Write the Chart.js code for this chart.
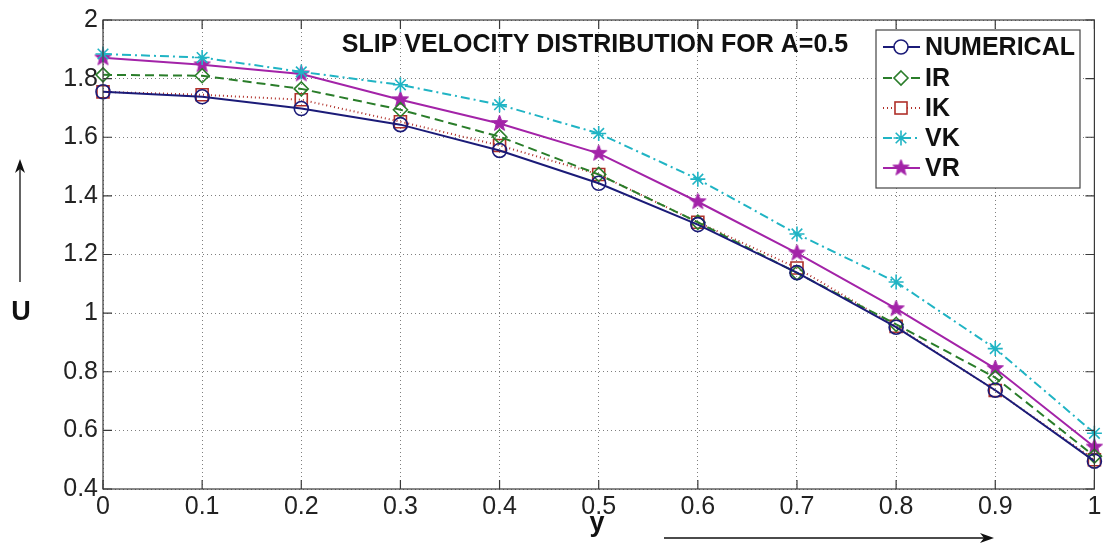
<!DOCTYPE html>
<html>
<head>
<meta charset="utf-8">
<script src="https://cdn.jsdelivr.net/npm/chart.js@4"></script>
<style>
  html, body { margin: 0; padding: 0; background: #fff; }
</style>
</head>
<body>
<canvas id="slip" width="1105" height="546"></canvas>
<script>
// y positions across the channel
const yPos = [0, 0.1, 0.2, 0.3, 0.4, 0.5, 0.6, 0.7, 0.8, 0.9, 1];

// slip velocity U for each method
const numerical = [1.755, 1.738, 1.698, 1.643, 1.555, 1.443, 1.302, 1.138, 0.952, 0.737, 0.495];
const ir        = [1.813, 1.810, 1.765, 1.694, 1.602, 1.473, 1.310, 1.137, 0.962, 0.780, 0.512];
const ik        = [1.755, 1.745, 1.728, 1.653, 1.572, 1.473, 1.310, 1.154, 0.955, 0.736, 0.500];
const vk        = [1.884, 1.872, 1.823, 1.779, 1.711, 1.613, 1.457, 1.270, 1.106, 0.879, 0.590];
const vr        = [1.871, 1.847, 1.816, 1.728, 1.647, 1.545, 1.380, 1.205, 1.015, 0.811, 0.543];

const seriesNames = ["NUMERICAL", "IR", "IK", "VK", "VR"];

const TITLE = "SLIP VELOCITY DISTRIBUTION FOR A=0.5";

// filled pentagram marker for VR (matlab 'p')
function pentagram(size, color) {
    const c = document.createElement('canvas');
    c.width = size; c.height = size;
    const g = c.getContext('2d');
    const cx = size / 2, cy = size / 2, R = size / 2 - 1, r = R * 0.42;
    g.beginPath();
    for (let i = 0; i < 10; i++) {
        const rad = i % 2 === 0 ? R : r;
        const a = -Math.PI / 2 + i * Math.PI / 5;
        g.lineTo(cx + rad * Math.cos(a), cy + rad * Math.sin(a));
    }
    g.closePath();
    g.fillStyle = color;
    g.fill();
    g.strokeStyle = color;
    g.lineWidth = 1;
    g.stroke();
    return c;
}

function pts(vals) {
    return yPos.map((x, i) => ({x: x, y: vals[i]}));
}

const styles = [
    {color: "#1b1b78", dash: [], point: "circle", radius: 7, fill: "rgba(0,0,0,0)"},
    {color: "#2a7d2a", dash: [9, 5], point: "rectRot", radius: 7, fill: "rgba(0,0,0,0)"},
    {color: "#b0302a", dash: [1, 3], point: "rect", radius: 8.5, fill: "rgba(0,0,0,0)"},
    {color: "#20b4c4", dash: [9, 4, 2, 4], point: "star", radius: 7.5, fill: "rgba(0,0,0,0)"},
    {color: "#a323a8", dash: [], point: pentagram(19, "#a323a8"), radius: 9, fill: "#a323a8"}
];

const allVals = [numerical, ir, ik, vk, vr];

const datasets = allVals.map((vals, i) => ({
    label: seriesNames[i],
    data: pts(vals),
    borderColor: styles[i].color,
    backgroundColor: styles[i].fill,
    borderDash: styles[i].dash,
    borderWidth: 2,
    pointStyle: styles[i].point,
    pointRadius: styles[i].radius,
    pointBorderWidth: 1.6,
    pointBorderColor: styles[i].color,
    pointBackgroundColor: styles[i].fill,
    tension: 0,
    clip: false
}));

const tickFont = {family: "Liberation Sans, Arial, sans-serif", size: 25};

// title, legend box, axis labels, arrows, inward ticks and frame
const decor = {
    id: 'decor',
    afterDraw(chart) {
        const g = chart.ctx;
        const a = chart.chartArea;
        const xs = chart.scales.x, ys = chart.scales.y;
        g.save();

        // frame
        g.setLineDash([]);
        g.strokeStyle = "#3a3a3a";
        g.lineWidth = 1.2;
        g.strokeRect(a.left, a.top, a.right - a.left, a.bottom - a.top);

        // inward ticks on all sides
        g.beginPath();
        xs.ticks.forEach(t => {
            const px = xs.getPixelForValue(t.value);
            g.moveTo(px, a.bottom); g.lineTo(px, a.bottom - 9);
            g.moveTo(px, a.top); g.lineTo(px, a.top + 9);
        });
        ys.ticks.forEach(t => {
            const py = ys.getPixelForValue(t.value);
            g.moveTo(a.left, py); g.lineTo(a.left + 9, py);
            g.moveTo(a.right, py); g.lineTo(a.right - 9, py);
        });
        g.stroke();

        // title inside plot
        g.fillStyle = "#111";
        g.font = "bold 25px Liberation Sans, Arial, sans-serif";
        g.textAlign = "center";
        g.textBaseline = "middle";
        g.fillText(TITLE, 595, 45);

        // legend
        const lx = 876, ly = 30, lw = 204, lh = 158;
        g.fillStyle = "#fff";
        g.fillRect(lx, ly, lw, lh);
        g.strokeStyle = "#444";
        g.lineWidth = 1.2;
        g.strokeRect(lx, ly, lw, lh);
        const rows = [47, 78, 108, 138, 168];
        chart.data.datasets.forEach((ds, i) => {
            const y = rows[i];
            g.strokeStyle = ds.borderColor;
            g.lineWidth = 2;
            g.setLineDash(ds.borderDash);
            g.beginPath();
            g.moveTo(883, y); g.lineTo(920, y);
            g.stroke();
            g.setLineDash([]);
            g.strokeStyle = ds.pointBorderColor;
            g.lineWidth = ds.pointBorderWidth;
            const r = ds.pointRadius;
            if (typeof ds.pointStyle === 'string') {
                g.fillStyle = "#fff";
                g.beginPath();
                if (ds.pointStyle === 'circle') { g.arc(901, y, r, 0, Math.PI * 2); g.fill(); g.stroke(); }
                else if (ds.pointStyle === 'rect') { const h = r * Math.SQRT1_2; g.fillRect(901 - h, y - h, 2 * h, 2 * h); g.strokeRect(901 - h, y - h, 2 * h, 2 * h); }
                else if (ds.pointStyle === 'rectRot') { g.moveTo(901, y - r); g.lineTo(901 + r, y); g.lineTo(901, y + r); g.lineTo(901 - r, y); g.closePath(); g.fill(); g.stroke(); }
                else if (ds.pointStyle === 'star') {
                    for (let k = 0; k < 4; k++) {
                        const ang = k * Math.PI / 4;
                        g.moveTo(901 - r * Math.cos(ang), y - r * Math.sin(ang));
                        g.lineTo(901 + r * Math.cos(ang), y + r * Math.sin(ang));
                    }
                    g.stroke();
                }
            } else {
                g.drawImage(ds.pointStyle, 901 - ds.pointStyle.width / 2, y - ds.pointStyle.height / 2);
            }
            g.fillStyle = "#111";
            g.font = "bold 25px Liberation Sans, Arial, sans-serif";
            g.textAlign = "left";
            g.textBaseline = "middle";
            g.fillText(ds.label, 925, y + 1);
        });

        // axis labels
        g.fillStyle = "#111";
        g.font = "bold 27px Liberation Sans, Arial, sans-serif";
        g.textAlign = "center";
        g.textBaseline = "middle";
        g.fillText("y", 597, 524);
        g.fillText("U", 21, 313);

        // arrows
        g.strokeStyle = "#111";
        g.fillStyle = "#111";
        g.lineWidth = 1.3;
        g.beginPath();
        g.moveTo(664, 538); g.lineTo(988, 538);
        g.moveTo(20, 282); g.lineTo(20, 166);
        g.stroke();
        g.beginPath();
        g.moveTo(994, 538); g.lineTo(980, 533); g.lineTo(984, 538); g.lineTo(980, 543); g.closePath();
        g.fill();
        g.beginPath();
        g.moveTo(20, 159); g.lineTo(15, 173); g.lineTo(20, 169); g.lineTo(25, 173); g.closePath();
        g.fill();

        g.restore();
    }
};

const ctx = document.getElementById("slip");
const slipChart = new Chart(ctx, {
    type: 'line',
    data: {datasets: datasets},
    options: {
        responsive: false,
        animation: false,
        devicePixelRatio: 1,
        layout: {padding: {top: 17, right: 8, left: 0, bottom: 0}},
        plugins: {
            legend: {display: false},
            title: {display: false},
            tooltip: {enabled: false}
        },
        scales: {
            x: {
                type: 'linear',
                min: 0,
                max: 1,
                ticks: {
                    stepSize: 0.1,
                    font: tickFont,
                    color: "#222",
                    padding: 3,
                    maxRotation: 0,
                    callback: v => String(+v.toFixed(1))
                },
                grid: {color: "rgba(0,0,0,0.5)", drawTicks: false, lineWidth: 1},
                border: {display: false, dash: [1, 3]},
                afterFit: s => { s.height = 57; }
            },
            y: {
                min: 0.4,
                max: 2,
                ticks: {
                    stepSize: 0.2,
                    font: tickFont,
                    color: "#222",
                    padding: 5,
                    callback: v => String(+v.toFixed(1))
                },
                grid: {color: "rgba(0,0,0,0.5)", drawTicks: false, lineWidth: 1},
                border: {display: false, dash: [1, 3]},
                afterFit: s => { s.width = 103; }
            }
        }
    },
    plugins: [decor]
});
</script>
</body>
</html>
